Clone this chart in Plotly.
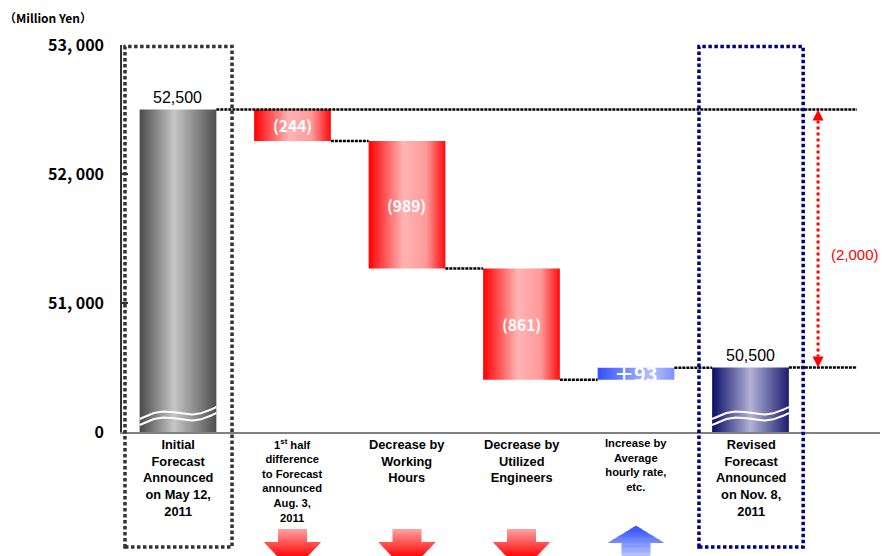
import numpy as np
import plotly.graph_objects as go

# ---- data -------------------------------------------------------------
categories = [
    "Initial<br>Forecast<br>Announced<br>on May 12,<br>2011",
    "1<sup>st</sup> half<br>difference<br>to Forecast<br>announced<br>Aug. 3,<br>2011",
    "Decrease by<br>Working<br>Hours",
    "Decrease by<br>Utilized<br>Engineers",
    "Increase by<br>Average<br>hourly rate,<br>etc.",
    "Revised<br>Forecast<br>Announced<br>on Nov. 8,<br>2011",
]
category_font_sizes = [12.8, 11.2, 12.8, 12.8, 11.2, 12.8]
initial_forecast = 52500
changes = [-244, -989, -861, 93]
revised_forecast = 50500
y_tick_values = [50000, 51000, 52000, 53000]
y_tick_labels = ["0", "51, 000", "52, 000", "53, 000"]

# ---- layout constants --------------------------------------------------
W, H = 883, 556
M_L, M_R, M_T, M_B = 122, 3, 45, 124
PLOT_H = H - M_T - M_B
Y_MIN, Y_MAX = 50000, 53000
X_MIN, X_MAX = -0.489, 6.131
BAR_W = 0.67
UNITS_PER_PX = (Y_MAX - Y_MIN) / PLOT_H
X_PER_PX = (X_MAX - X_MIN) / (W - M_L - M_R)

GOTHIC = "Noto Sans CJK JP, Noto Sans, sans-serif"
ARIAL = "Liberation Sans, Arial, sans-serif"

GRAY = [[0, "#4a4a4a"], [0.45, "#c6c6c6"], [1, "#4f4f4f"]]
RED = [[0, "#ff0000"], [0.45, "#ffb4b4"], [0.75, "#ff9a9a"], [1, "#ff0a0a"]]
BLUE = [[0, "#3050ff"], [0.7, "#b4c0ff"], [1, "#7f90ff"]]
NAVY = [[0, "#0c0c68"], [0.5, "#b2b2d8"], [1, "#1c1c70"]]


def paper_y(py):
    """Pixel row -> paper y coordinate of the plotting area."""
    return (H - M_B - py) / PLOT_H


fig = go.Figure()

# ---- floating bars -----------------------------------------------------
levels = [initial_forecast]
for c in changes:
    levels.append(levels[-1] + c)

bars = [(0, 0, initial_forecast, GRAY)]
for i, c in enumerate(changes):
    bars.append((i + 1, levels[i], levels[i + 1], RED if c < 0 else BLUE))
bars.append((5, 0, revised_forecast, NAVY))

for xc, lo, hi, cs in bars:
    x0, x1 = xc - BAR_W / 2, xc + BAR_W / 2
    fig.add_trace(go.Scatter(
        x=[x0, x1, x1, x0, x0], y=[lo, lo, hi, hi, lo],
        mode="lines", fill="toself", line=dict(width=0),
        fillgradient=dict(type="horizontal", colorscale=cs),
        hoverinfo="skip", showlegend=False,
    ))

# axis-break waves on the two total bars
t = np.linspace(0, 1, 60)
for xc in (0, 5):
    xs = xc - BAR_W / 2 + t * BAR_W
    lift_px = 13 + 12 * t + 4 * np.sin(2 * np.pi * t)
    for off in (0, -6):
        fig.add_trace(go.Scatter(
            x=xs, y=Y_MIN + (lift_px + off) * UNITS_PER_PX,
            mode="lines", line=dict(color="white", width=2),
            hoverinfo="skip", showlegend=False,
        ))

# ---- dotted connectors -------------------------------------------------
x_end = 5.93
conn = [(0 + BAR_W / 2, x_end, initial_forecast)]
for i in range(1, 5):
    conn.append((i + BAR_W / 2, i + 1 - BAR_W / 2, levels[i]))
conn.append((5 + BAR_W / 2, x_end, revised_forecast))
for xa, xb, lv in conn:
    fig.add_trace(go.Scatter(
        x=[xa, xb], y=[lv, lv], mode="lines",
        line=dict(color="black", width=2.5, dash="3px,1px"),
        hoverinfo="skip", showlegend=False,
    ))

# ---- total difference arrow -----------------------------------------------
x_arrow = 5.59
fig.add_trace(go.Scatter(
    x=[x_arrow, x_arrow], y=[initial_forecast - 11 * UNITS_PER_PX, revised_forecast + 11 * UNITS_PER_PX],
    mode="lines", line=dict(color="#ff0000", width=3, dash="3px,3px"),
    hoverinfo="skip", showlegend=False,
))
fig.add_trace(go.Scatter(
    x=[x_arrow, x_arrow], y=[initial_forecast, revised_forecast], mode="markers",
    marker=dict(symbol=["arrow-up", "arrow-down"], size=11, color="#ff0000", line=dict(width=0)),
    hoverinfo="skip", showlegend=False, cliponaxis=False,
))
diff = revised_forecast - initial_forecast
diff_text = f"({abs(diff):,})" if diff < 0 else f"+{diff:,}"

annotations = [
    dict(x=x_arrow + 0.32, y=(initial_forecast + revised_forecast) / 2, yshift=-16,
         text=diff_text, showarrow=False, font=dict(family=ARIAL, size=15, color="#ff0000")),
    dict(x=0, y=initial_forecast, yanchor="bottom", yshift=2, text=f"{initial_forecast:,}",
         showarrow=False, font=dict(family=ARIAL, size=16, color="black")),
    dict(x=5, y=revised_forecast, yanchor="bottom", yshift=2, text=f"{revised_forecast:,}",
         showarrow=False, font=dict(family=ARIAL, size=16, color="black")),
    dict(xref="paper", yref="paper", x=(2 - M_L) / (W - M_L - M_R), y=paper_y(17),
         xanchor="left", yanchor="middle", text="<b>（Million Yen）</b>", showarrow=False,
         font=dict(family=GOTHIC, size=12, color="black")),
]
for i, c in enumerate(changes):
    label = f"({abs(c)})" if c < 0 else f"＋{c}"
    big = c > 0
    annotations.append(dict(
        x=i + 1, y=(levels[i] + levels[i + 1]) / 2, text=f"<b>{label}</b>",
        showarrow=False, yshift=0,
        font=dict(family=GOTHIC, size=20 if big else 15.5, color="white"),
    ))
for i, (cat, fs) in enumerate(zip(categories, category_font_sizes)):
    annotations.append(dict(
        x=i, xref="x", yref="paper", y=0, yanchor="top", yshift=-3,
        text=f"<b>{cat}</b>", showarrow=False, align="center",
        font=dict(family=ARIAL, size=fs, color="black"),
    ))

# ---- shapes: frames around totals, direction arrows ---------------------------
shapes = [
    dict(type="rect", xref="x", yref="paper", x0=-0.463, x1=0.472,
         y0=paper_y(547), y1=paper_y(46.5),
         line=dict(color="#333333", width=3.5, dash="3.5px,2.5px")),
    dict(type="rect", xref="x", yref="paper", x0=4.55, x1=5.46,
         y0=paper_y(547), y1=paper_y(46.5),
         line=dict(color="#000080", width=3.5, dash="3.5px,2.5px")),
]


def mix(c0, c1, f):
    a = [int(c0[k:k + 2], 16) for k in (1, 3, 5)]
    b = [int(c1[k:k + 2], 16) for k in (1, 3, 5)]
    return "#" + "".join(f"{round(p + (q - p) * f):02x}" for p, q in zip(a, b))


def arrow_bands(xc, y_tail, y_neck, y_tip, shaft_hw, head_hw, c_from, c_to, c_span):
    """Arrow split into horizontal bands that step through a colour ramp."""
    out = []
    direction = 1 if y_tip > y_tail else -1

    def half_w(py):
        if (py - y_neck) * direction <= 0:
            return shaft_hw
        return head_hw * (y_tip - py) / (y_tip - y_neck)

    edges = list(np.linspace(y_tail, y_neck, 7)) + list(np.linspace(y_neck, y_tip, 13))[1:]
    for ya, yb in zip(edges[:-1], edges[1:]):
        mid = (ya + yb) / 2
        f = min(max((mid - c_span[0]) / (c_span[1] - c_span[0]), 0), 1)
        wa = half_w(ya + 1e-6 * direction)
        wb = half_w(yb - 1e-6 * direction)
        yb2 = yb + 0.6 * direction
        pts = [(xc - wa, ya), (xc + wa, ya), (xc + wb, yb2), (xc - wb, yb2)]
        path = "M" + " L".join(f"{px:.4f},{paper_y(py):.5f}" for px, py in pts) + " Z"
        out.append(dict(type="path", xref="x", yref="paper", path=path,
                        fillcolor=mix(c_from, c_to, f), line=dict(width=0), layer="above"))
    return out


for i, c in enumerate(changes):
    xc = i + 1
    if c < 0:
        shapes += arrow_bands(xc, 529, 542, 572, 14.5 * X_PER_PX, 28.5 * X_PER_PX,
                              "#ffa2a2", "#ff0000", (529, 558))
    else:
        shapes += arrow_bands(xc, 572, 543, 526, 14.5 * X_PER_PX, 28 * X_PER_PX,
                              "#b8c4ff", "#3352ff", (556, 528))

fig.update_layout(
    width=W, height=H,
    margin=dict(l=M_L, r=M_R, t=M_T, b=M_B, pad=0),
    paper_bgcolor="white", plot_bgcolor="white",
    showlegend=False,
    annotations=annotations,
    shapes=shapes,
    xaxis=dict(range=[X_MIN, X_MAX], showgrid=False, zeroline=False, showticklabels=False,
               showline=True, linecolor="#808080", linewidth=2, ticks=""),
    yaxis=dict(range=[Y_MIN, Y_MAX], showgrid=False, zeroline=False,
               tickvals=y_tick_values, ticktext=[f"<b>{s}</b>" for s in y_tick_labels],
               tickfont=dict(family=GOTHIC, size=16, color="black"),
               ticks="inside", ticklen=6, tickcolor="#333333", tickwidth=1.5,
               ticklabelstandoff=13,
               showline=True, linecolor="#333333", linewidth=1.5),
)

fig.write_html("out.html")
